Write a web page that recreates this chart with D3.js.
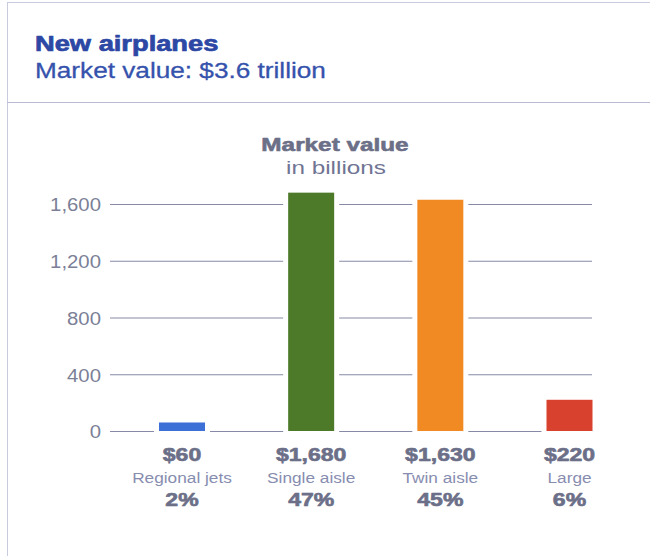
<!DOCTYPE html>
<html>
<head>
<meta charset="utf-8">
<script src="https://cdn.jsdelivr.net/npm/d3@7/dist/d3.min.js"></script>
<style>
  html, body { margin: 0; padding: 0; background: #fff; }
  svg { display: block; }
  text { font-family: "Liberation Sans", Arial, Helvetica, sans-serif; }
</style>
</head>
<body>
<svg id="chart" width="650" height="556"></svg>
<script>
// Market value of new airplanes, in billions of dollars
const categories = ["Regional jets", "Single aisle", "Twin aisle", "Large"];
const values = [60, 1680, 1630, 220];
const shares = ["2%", "47%", "45%", "6%"];
const barColors = ["#3d70d6", "#4c7a28", "#f28a24", "#d8412d"];
const yTicks = [0, 400, 800, 1200, 1600];

const title = "New airplanes";
const subtitle = "Market value: $3.6 trillion";
const chartTitle = "Market value";
const chartUnit = "in billions";

const svg = d3.select("#chart");

// Draws a text horizontally widened around its anchor point;
// heavy texts get a thin outline in their own colour
function label(parent, str, x, y, opts) {
  const t = parent.append("text")
    .attr("transform", `translate(${x},${y}) scale(${opts.sx || 1},1)`)
    .attr("text-anchor", opts.anchor || "start")
    .attr("font-size", opts.size)
    .attr("font-weight", opts.weight || "normal")
    .attr("fill", opts.fill)
    .text(str);
  if (opts.heavy) {
    t.attr("stroke", opts.fill).attr("stroke-width", opts.heavy).attr("stroke-linejoin", "round");
  }
  return t;
}

// Frame: top rule, left rule and header separator
const frame = svg.append("g").attr("stroke", "#c9cbdf").attr("stroke-width", 1);
frame.append("line").attr("x1", 7).attr("x2", 650).attr("y1", 2.5).attr("y2", 2.5);
frame.append("line").attr("x1", 7.5).attr("x2", 7.5).attr("y1", 2).attr("y2", 556);
frame.append("line").attr("x1", 7).attr("x2", 650).attr("y1", 102.5).attr("y2", 102.5)
  .attr("stroke", "#b9bcd4");

// Header
label(svg, title, 35, 51, { size: 22, weight: "bold", fill: "#2c48a4", sx: 1.24, heavy: 0.7 });
label(svg, subtitle, 35, 78, { size: 22, fill: "#3552ac", sx: 1.19, heavy: 0.3 });

// Chart heading
label(svg, chartTitle, 335, 151, { size: 19, weight: "bold", fill: "#6b6f87", anchor: "middle", sx: 1.28, heavy: 0.6 });
label(svg, chartUnit, 336, 174, { size: 18, fill: "#707493", anchor: "middle", sx: 1.35 });

// Scales
const y = d3.scaleLinear().domain([0, 1600]).range([431, 204]);
const x = d3.scalePoint().domain(categories).range([182, 569.5]);
const barW = 46;
const gridLeft = 110, gridRight = 592;

// Gridlines and y tick labels
const axis = d3.axisLeft(y)
  .tickValues(yTicks)
  .tickFormat(d3.format(","))
  .tickSize(-(gridRight - gridLeft))
  .tickPadding(8);

const gAxis = svg.append("g")
  .attr("transform", `translate(${gridLeft},0)`)
  .call(axis);
gAxis.select(".domain").remove();
gAxis.selectAll(".tick line")
  .attr("stroke", "#868aa6")
  .attr("stroke-width", 1);
gAxis.selectAll(".tick text")
  .attr("font-family", "Liberation Sans, Arial, sans-serif")
  .attr("font-size", 18)
  .attr("fill", "#7b7f97")
  .attr("dy", "0.38em")
  .attr("transform", "scale(1.13,1)");

const rows = categories.map((c, i) => ({ cat: c, value: values[i], share: shares[i], color: barColors[i] }));

// White gap in the gridlines on either side of each bar
svg.append("g").selectAll("rect")
  .data(rows)
  .join("rect")
  .attr("x", d => x(d.cat) - barW / 2 - 5)
  .attr("width", barW + 10)
  .attr("y", d => y(d.value))
  .attr("height", d => y(0) - y(d.value) + 1)
  .attr("fill", "#fff");

// Bars
svg.append("g").selectAll("rect")
  .data(rows)
  .join("rect")
  .attr("x", d => x(d.cat) - barW / 2)
  .attr("width", barW)
  .attr("y", d => y(d.value))
  .attr("height", d => y(0) - y(d.value))
  .attr("fill", d => d.color);

// Labels beneath each bar: value, category, share
const money = v => "$" + d3.format(",")(v);
const lab = svg.append("g");
rows.forEach(d => {
  const cx = x(d.cat);
  label(lab, money(d.value), cx, 461, { size: 18, weight: "bold", fill: "#6c6f88", anchor: "middle", sx: 1.28, heavy: 0.6 });
  label(lab, d.cat, cx, 483, { size: 15, fill: "#878daf", anchor: "middle", sx: 1.15 });
  label(lab, d.share, cx, 506, { size: 18, weight: "bold", fill: "#6c6f88", anchor: "middle", sx: 1.28, heavy: 0.6 });
});
</script>
</body>
</html>
